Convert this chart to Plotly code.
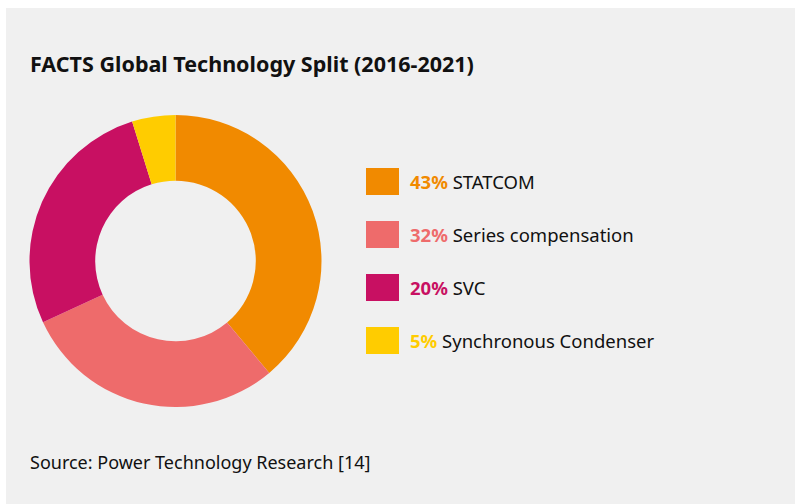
import plotly.graph_objects as go

title = "FACTS Global Technology Split (2016-2021)"
source = "Source: Power Technology Research [14]"
categories = ["STATCOM", "Series compensation", "SVC", "Synchronous Condenser"]
label_pct = ["43%", "32%", "20%", "5%"]          # legend text as printed
slice_values = [38.9, 29.2, 27.1, 4.8]            # slice sizes as drawn
colors = ["#f18a00", "#ee6b6b", "#c81062", "#ffcc00"]

W, H = 795, 504
FONT = "Noto Sans"

fig = go.Figure()
fig.add_trace(go.Pie(
    labels=categories,
    values=slice_values,
    hole=0.55,
    sort=False,
    direction="clockwise",
    rotation=0,
    marker=dict(colors=colors, line=dict(width=0)),
    textinfo="none",
    hoverinfo="label",
    showlegend=False,
    domain=dict(x=[29.5 / W, 321.5 / W], y=[(H - 407) / H, (H - 115) / H]),
))

shapes = [
    dict(type="rect", xref="paper", yref="paper", x0=0, x1=1, y0=1 - 8 / H, y1=1,
         fillcolor="white", line=dict(width=0), layer="above"),
    dict(type="rect", xref="paper", yref="paper", x0=0, x1=6 / W, y0=0, y1=1,
         fillcolor="white", line=dict(width=0), layer="above"),
]
annotations = [
    dict(text=f"<b>{title}</b>", xref="paper", yref="paper", x=28 / W, y=1 - 63 / H,
         xanchor="left", yanchor="middle", showarrow=False,
         font=dict(family=FONT, size=21.5, color="#111111")),
    dict(text=source, xref="paper", yref="paper", x=28 / W, y=1 - 462 / H,
         xanchor="left", yanchor="middle", showarrow=False,
         font=dict(family=FONT, size=18, color="#111111")),
]
row0, step = 181.5, 53
for i, (cat, pct, col) in enumerate(zip(categories, label_pct, colors)):
    yc = row0 + i * step
    shapes.append(dict(type="rect", xref="paper", yref="paper",
                       x0=366 / W, x1=399 / W, y0=1 - (yc + 13.5) / H, y1=1 - (yc - 13.5) / H,
                       fillcolor=col, line=dict(width=0)))
    annotations.append(dict(
        text=f"<b><span style='color:{col}'>{pct}</span></b> {cat}",
        xref="paper", yref="paper", x=408 / W, y=1 - yc / H,
        xanchor="left", yanchor="middle", showarrow=False,
        font=dict(family=FONT, size=18.5, color="#111111")))

fig.update_layout(
    width=W, height=H,
    margin=dict(l=0, r=0, t=0, b=0),
    paper_bgcolor="#f0f0f0",
    plot_bgcolor="#f0f0f0",
    shapes=shapes,
    annotations=annotations,
)
fig.write_html(
    "out.html",
    config={"displayModeBar": False},
    post_script="document.body.style.margin='0px';document.body.style.overflow='hidden';",
)
